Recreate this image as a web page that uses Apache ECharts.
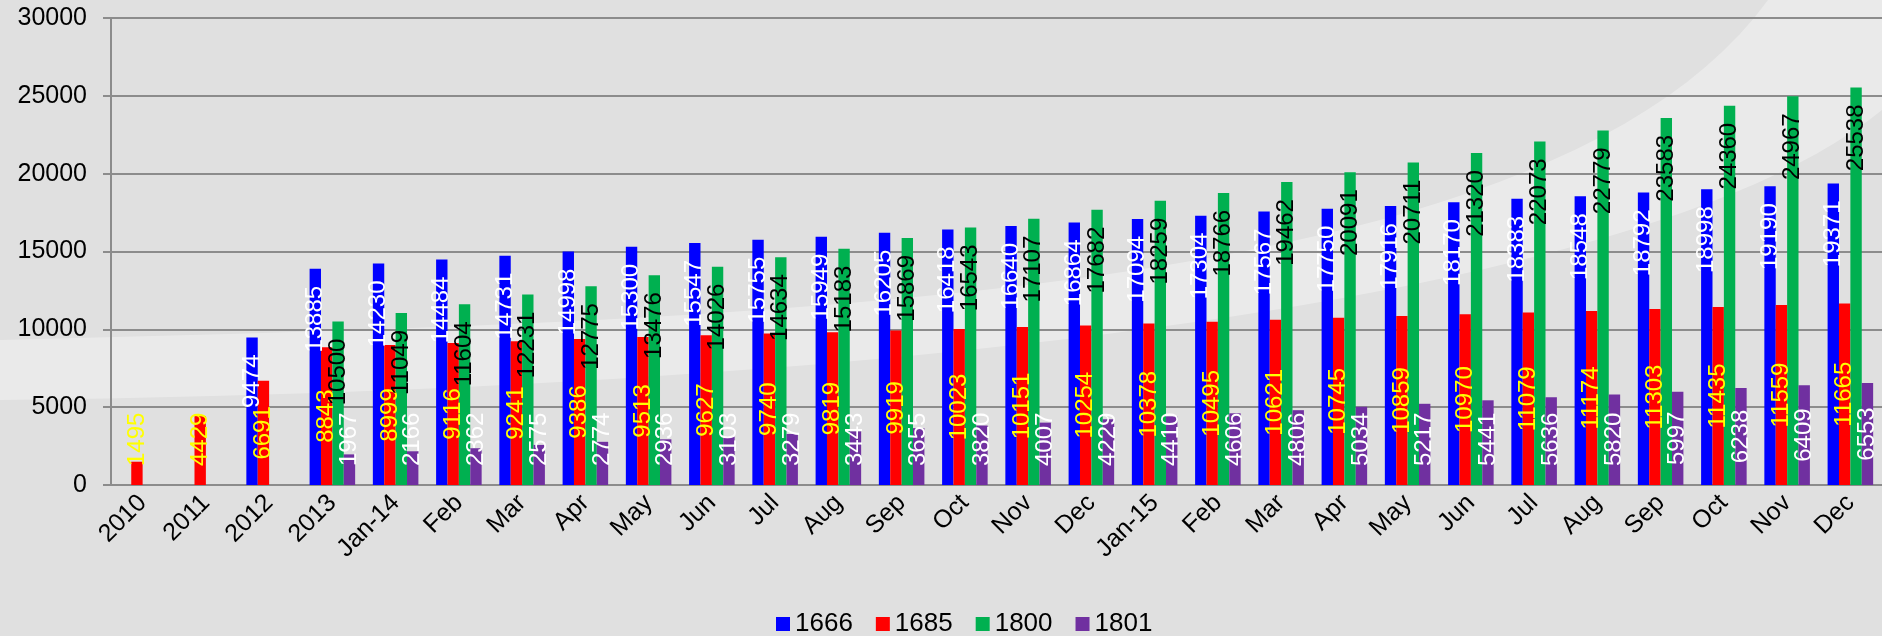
<!DOCTYPE html>
<html>
<head>
<meta charset="utf-8">
<script src="https://cdn.jsdelivr.net/npm/echarts@6/dist/echarts.min.js"></script>
<style>
  html, body { margin: 0; padding: 0; }
  #chart { width: 1882px; height: 636px; }
</style>
</head>
<body>
<div id="chart"></div>
<script>
var categories = ['2010', '2011', '2012', '2013', 'Jan-14', 'Feb', 'Mar', 'Apr', 'May', 'Jun', 'Jul', 'Aug', 'Sep', 'Oct', 'Nov', 'Dec',
  'Jan-15', 'Feb', 'Mar', 'Apr', 'May', 'Jun', 'Jul', 'Aug', 'Sep', 'Oct', 'Nov', 'Dec'];

var s1666 = [null, null, 9474, 13885, 14230, 14484, 14731, 14998, 15300, 15547, 15755, 15949, 16205, 16418, 16640, 16864,
  17094, 17304, 17567, 17750, 17916, 18170, 18383, 18548, 18792, 18998, 19190, 19371];
var s1685 = [1495, 4429, 6691, 8843, 8999, 9116, 9241, 9386, 9513, 9627, 9740, 9819, 9919, 10023, 10151, 10254,
  10378, 10495, 10621, 10745, 10859, 10970, 11079, 11174, 11303, 11435, 11559, 11665];
var s1800 = [null, null, null, 10500, 11049, 11604, 12231, 12775, 13476, 14026, 14634, 15183, 15869, 16543, 17107, 17682,
  18259, 18766, 19462, 20091, 20711, 21320, 22073, 22779, 23583, 24360, 24967, 25538];
var s1801 = [null, null, null, 1967, 2166, 2362, 2575, 2774, 2936, 3103, 3279, 3443, 3655, 3820, 4007, 4229,
  4410, 4606, 4806, 5034, 5217, 5441, 5636, 5820, 5997, 6238, 6409, 6553];

var yTicks = [0, 5000, 10000, 15000, 20000, 25000, 30000];

var font = 'Liberation Sans, Arial, sans-serif';
var chart = echarts.init(document.getElementById('chart'));

// label near the top of the bar, text reading upwards
function topLabel(color) {
  return {
    show: true,
    position: 'insideTop',
    distance: 17,
    rotate: 90,
    align: 'right',
    verticalAlign: 'middle',
    color: color,
    fontSize: 24,
    fontFamily: font,
    textBorderWidth: 0
  };
}
// label centred in the bar
function midLabel(color) {
  return {
    show: true,
    position: 'inside',
    rotate: 90,
    align: 'center',
    verticalAlign: 'middle',
    color: color,
    fontSize: 24,
    fontFamily: font,
    textBorderWidth: 0
  };
}
// keep centred labels from dropping too close to the axis
function liftLabel(p) {
  var base = Math.max(p.rect.y, p.rect.y + p.rect.height);
  var bottom = p.labelRect.y + p.labelRect.height;
  var limit = base - 19;
  if (bottom > limit) {
    return {
      x: p.labelRect.x + p.labelRect.width / 2,
      y: p.labelRect.y + p.labelRect.height / 2 - (bottom - limit)
    };
  }
  return {};
}

// light swoosh in the background (two cubic curves sampled to a polygon)
function cubic(p0, p1, p2, p3, n) {
  var pts = [];
  for (var i = 0; i <= n; i++) {
    var t = i / n, u = 1 - t;
    var a = u * u * u, b = 3 * u * u * t, c = 3 * u * t * t, d = t * t * t;
    pts.push([a * p0[0] + b * p1[0] + c * p2[0] + d * p3[0], a * p0[1] + b * p1[1] + c * p2[1] + d * p3[1]]);
  }
  return pts;
}
var swoosh = cubic([0, 340], [800, 320], [1550, 300], [1768, 0], 50)
  .concat([[1882, 0]])
  .concat(cubic([1882, 110], [1650, 300], [900, 390], [0, 400], 50));

var option = {
  animation: false,
  backgroundColor: '#e0e0e0',
  textStyle: { fontFamily: font },
  graphic: [{
    type: 'polygon',
    z: -10,
    silent: true,
    shape: { points: swoosh },
    style: { fill: 'rgba(255,255,255,0.33)' }
  }],
  grid: { left: 111, right: 0, top: 18, bottom: 151 },
  legend: {
    left: 771,
    top: 606,
    itemWidth: 14,
    itemHeight: 14,
    itemGap: 23,
    icon: 'rect',
    textStyle: { fontSize: 26, color: '#000', fontFamily: font },
    data: ['1666', '1685', '1800', '1801']
  },
  xAxis: {
    type: 'category',
    data: categories,
    axisLine: { lineStyle: { color: '#8c8c8c', width: 2 } },
    axisTick: { length: 8, lineStyle: { color: '#8c8c8c', width: 2 } },
    axisLabel: { interval: 0, rotate: 45, margin: 14, fontSize: 25, color: '#000', fontFamily: font }
  },
  yAxis: {
    type: 'value',
    min: yTicks[0],
    max: yTicks[yTicks.length - 1],
    interval: yTicks[1] - yTicks[0],
    axisLine: { show: true, lineStyle: { color: '#8c8c8c', width: 2 } },
    axisTick: { show: true, length: 8, lineStyle: { color: '#8c8c8c', width: 2 } },
    splitLine: { lineStyle: { color: '#8c8c8c', width: 2 } },
    axisLabel: {
      margin: 24, fontSize: 25, color: '#000', fontFamily: font,
      formatter: function (v) { return String(v); }
    }
  },
  series: [
    { name: '1666', type: 'bar', data: s1666, color: '#0000ff', barGap: '0%', barCategoryGap: '28%',
      label: topLabel('#ffffff') },
    { name: '1685', type: 'bar', data: s1685, color: '#ff0000',
      label: midLabel('#ffff00'), labelLayout: liftLabel },
    { name: '1800', type: 'bar', data: s1800, color: '#00b050',
      label: topLabel('#000000') },
    { name: '1801', type: 'bar', data: s1801, color: '#7030a0',
      label: midLabel('#ffffff'), labelLayout: liftLabel }
  ]
};
chart.setOption(option);
</script>
</body>
</html>
